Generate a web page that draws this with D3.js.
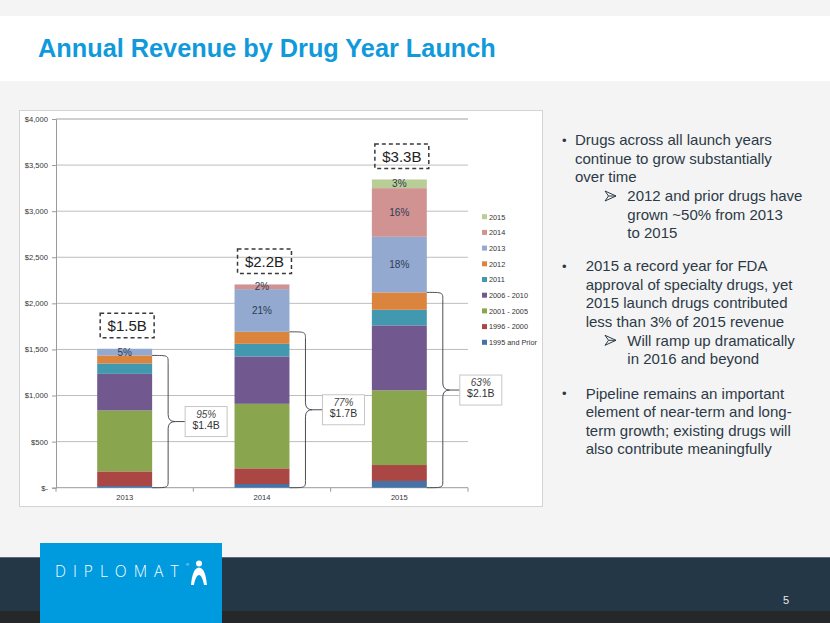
<!DOCTYPE html>
<html><head><meta charset="utf-8">
<script src="https://cdn.jsdelivr.net/npm/d3@7"></script>
<style>
html,body{margin:0;padding:0;background:#f4f4f4;}
svg{display:block;font-family:"Liberation Sans",Arial,sans-serif;}
</style></head>
<body>
<svg id="c" width="830" height="623"></svg>
<script>
// ---------------- data ----------------
const years = ["2013", "2014", "2015"];
const seriesNames = ["1995 and Prior", "1996 - 2000", "2001 - 2005", "2006 - 2010", "2011", "2012", "2013", "2014", "2015"];
const s1995 = [18, 40, 73];
const s1996 = [159, 170, 173];
const s2001 = [661, 700, 810];
const s2006 = [397, 514, 705];
const s2011 = [113, 137, 169];
const s2012 = [87, 130, 189];
const s2013 = [72, 463, 603];
const s2014 = [0, 51, 528];
const s2015 = [0, 0, 94];
const seriesColors = ["#4572A7", "#AA4643", "#89A54E", "#71588F", "#4198AF", "#DB843D", "#93A9CF", "#D19392", "#B9CD96"];
const yTicks = [0, 500, 1000, 1500, 2000, 2500, 3000, 3500, 4000];
const totalLabels = ["$1.5B", "$2.2B", "$3.3B"];
const sharePct = ["95%", "77%", "63%"];
const shareAmt = ["$1.4B", "$1.7B", "$2.1B"];
// percent labels inside segments: [yearIndex, seriesIndex, label]
const segLabels = [[0, 6, "5%"], [1, 6, "21%"], [1, 7, "2%"], [2, 6, "18%"], [2, 7, "16%"], [2, 8, "3%"]];
const bullets = [
  {lvl: 0, y: 140, lines: ["Drugs across all launch years", "continue to grow substantially", "over time"], tx: 575},
  {lvl: 1, y: 196, lines: ["2012 and prior drugs have", "grown ~50% from 2013", "to 2015"]},
  {lvl: 0, y: 266, lines: ["2015 a record year for FDA", "approval of specialty drugs, yet", "2015 launch drugs contributed", "less than 3% of 2015 revenue"], tx: 585.7},
  {lvl: 1, y: 340.3, lines: ["Will ramp up dramatically", "in 2016 and beyond"]},
  {lvl: 0, y: 393.3, lines: ["Pipeline remains an important", "element of near-term and long-", "term growth; existing drugs will", "also contribute meaningfully"], tx: 585.7}
];

const seriesVals = [s1995, s1996, s2001, s2006, s2011, s2012, s2013, s2014, s2015];
const table = years.map((y, i) => {
  const o = {year: y};
  seriesNames.forEach((s, k) => o[s] = seriesVals[k][i]);
  return o;
});

const svg = d3.select("#c");
const W = 830, H = 623;

// background
svg.append("rect").attr("width", W).attr("height", H).attr("fill", "#f4f4f4");
// header band
svg.append("rect").attr("x", 0).attr("y", 16).attr("width", W).attr("height", 65).attr("fill", "#ffffff");
svg.append("text").attr("x", 38).attr("y", 57).attr("font-size", 25.3).attr("font-weight", "bold")
  .attr("fill", "#109ADB").text("Annual Revenue by Drug Year Launch");

// chart panel
svg.append("rect").attr("x", 19.5).attr("y", 110.5).attr("width", 523).attr("height", 396)
  .attr("fill", "#ffffff").attr("stroke", "#d4d4d4").attr("stroke-width", 1);

const x = d3.scaleBand().domain(years).range([56, 468]).paddingInner(0.6).paddingOuter(0.3);
const y = d3.scaleLinear().domain([0, 4000]).range([487.7, 119]);

// gridlines
svg.append("g").selectAll("line").data(yTicks.filter(d => d > 0)).join("line")
  .attr("x1", 56).attr("x2", 468).attr("y1", d => y(d)).attr("y2", d => y(d))
  .attr("stroke", d => d === 4000 ? "#d0d0d0" : "#bdbdbd").attr("stroke-width", d => d === 4000 ? 2 : 1);

// y axis
const yAxis = d3.axisLeft(y).tickValues(yTicks).tickSize(4).tickPadding(4)
  .tickFormat(d => d === 0 ? "$-" : "$" + d3.format(",")(d));
const ya = svg.append("g").attr("transform", "translate(56,0)").call(yAxis);
ya.select(".domain").attr("stroke", "#9a9a9a");
ya.selectAll(".tick line").attr("stroke", "#9a9a9a");
ya.selectAll("text").attr("font-size", 7.6).attr("fill", "#333").attr("font-family", "Liberation Sans, Arial");

// x axis
const xa = svg.append("g").attr("transform", `translate(0,${y(0)})`).call(d3.axisBottom(x).tickSize(0).tickPadding(7));
xa.select(".domain").remove();
xa.selectAll("text").attr("font-size", 7.6).attr("fill", "#333").attr("font-family", "Liberation Sans, Arial");
svg.append("line").attr("x1", 56).attr("x2", 468).attr("y1", y(0)).attr("y2", y(0)).attr("stroke", "#9a9a9a");
const step = x.step();
const bounds = d3.range(years.length + 1).map(i => 56 + i * step);
svg.append("g").selectAll("line").data(bounds).join("line")
  .attr("x1", d => d).attr("x2", d => d).attr("y1", y(0)).attr("y2", y(0) + 4).attr("stroke", "#9a9a9a");

// stacked bars
const stack = d3.stack().keys(seriesNames)(table);
svg.append("g").selectAll("g").data(stack).join("g")
  .attr("fill", (d, i) => seriesColors[i])
  .selectAll("rect").data(d => d).join("rect")
  .attr("x", d => x(d.data.year)).attr("width", x.bandwidth())
  .attr("y", d => y(d[1])).attr("height", d => y(d[0]) - y(d[1]));

// segment percent labels
svg.append("g").selectAll("text").data(segLabels).join("text")
  .attr("x", d => x(years[d[0]]) + x.bandwidth() / 2)
  .attr("y", d => { const s = stack[d[1]][d[0]]; return (y(s[0]) + y(s[1])) / 2; })
  .attr("dy", "0.35em").attr("text-anchor", "middle").attr("font-size", 10).attr("fill", "#2e3b52")
  .text(d => d[2]);

// legend
const lg = svg.append("g");
const legendOrder = seriesNames.map((s, i) => i).reverse();
legendOrder.forEach((si, j) => {
  const ly = 217 + j * 15.7;
  lg.append("rect").attr("x", 482).attr("y", ly - 2.8).attr("width", 5).attr("height", 5).attr("fill", seriesColors[si]);
  lg.append("text").attr("x", 489).attr("y", ly).attr("dy", "0.35em").attr("font-size", 7.3).attr("fill", "#333")
    .text(seriesNames[si]);
});

// total dashed boxes
const totals = years.map((yr, i) => d3.sum(seriesVals, s => s[i]));
const boxH = 24.5;
years.forEach((yr, i) => {
  const bx = x(yr) + 3, bw = x.bandwidth() - 1;
  const by = y(totals[i]) - 11 - boxH;
  svg.append("rect").attr("x", bx).attr("y", by).attr("width", bw).attr("height", boxH)
    .attr("fill", "none").attr("stroke", "#3a3a3a").attr("stroke-width", 1.5).attr("stroke-dasharray", "4,3");
  svg.append("text").attr("x", bx + bw / 2).attr("y", by + boxH / 2).attr("dy", "0.36em")
    .attr("text-anchor", "middle").attr("font-size", 15).attr("fill", "#222").text(totalLabels[i]);
});

// braces + callouts (2012 and prior)
years.forEach((yr, i) => {
  const top = y(stack[5][i][1]), bot = y(0);
  const x0 = x(yr) + x.bandwidth(), xb = x0 + 16, xt = x0 + 33;
  const mid = (top + bot) / 2, r = 7;
  const p = `M${x0},${top} C${xb},${top} ${xb},${top} ${xb},${top + r} L${xb},${mid - r} Q${xb},${mid} ${xb + r},${mid} L${xt},${mid}` +
    ` M${xb + r},${mid} Q${xb},${mid} ${xb},${mid + r} L${xb},${bot - r} C${xb},${bot} ${xb},${bot} ${x0},${bot}`;
  svg.append("path").attr("d", p).attr("fill", "none").attr("stroke", "#4a4f56").attr("stroke-width", 1);
  const cw = 42, ch = 30;
  svg.append("rect").attr("x", xt).attr("y", mid - ch / 2).attr("width", cw).attr("height", ch)
    .attr("fill", "#fff").attr("stroke", "#c6c6c6").attr("stroke-width", 1);
  svg.append("text").attr("x", xt + cw / 2).attr("y", mid - 7.5).attr("dy", "0.35em").attr("text-anchor", "middle")
    .attr("font-size", 10).attr("font-style", "italic").attr("fill", "#444").text(sharePct[i]);
  svg.append("text").attr("x", xt + cw / 2).attr("y", mid + 3.5).attr("dy", "0.35em").attr("text-anchor", "middle")
    .attr("font-size", 10.5).attr("fill", "#333").text(shareAmt[i]);
});

// bullets text
const tg = svg.append("g").attr("font-size", 15).attr("fill", "#2c3a47");
const LH = 18.5;
bullets.forEach(b => {
  if (b.lvl === 0) {
    tg.append("text").attr("x", 562).attr("y", b.y).attr("dy", "0.35em").attr("font-size", 13).text("•");
  } else {
    const ax = 605, ay = b.y;
    tg.append("path").attr("d", `M${ax},${ay - 5} L${ax + 11},${ay} L${ax},${ay + 5} L${ax + 3.5},${ay} Z M${ax + 3.5},${ay} L${ax + 11},${ay}`)
      .attr("fill", "none").attr("stroke", "#2c3a47").attr("stroke-width", 1).attr("stroke-linejoin", "round");
  }
  const tx = b.lvl === 0 ? b.tx : 627.3;
  b.lines.forEach((ln, k) => {
    tg.append("text").attr("x", tx).attr("y", b.y + k * LH).attr("dy", "0.35em").text(ln);
  });
});

// footer
svg.append("rect").attr("x", 0).attr("y", 557).attr("width", W).attr("height", 54).attr("fill", "#243746");
svg.append("rect").attr("x", 0).attr("y", 611).attr("width", W).attr("height", 12).attr("fill", "#252729");
svg.append("rect").attr("x", 0).attr("y", 557).attr("width", W).attr("height", 1).attr("fill", "#5a6a78");
svg.append("rect").attr("x", 40).attr("y", 543).attr("width", 182).attr("height", 80).attr("fill", "#009ADE");
svg.append("text").attr("x", 55).attr("y", 577).attr("font-size", 15.5).attr("fill", "#fff")
  .attr("letter-spacing", 7).attr("font-family", "Open Sans, Liberation Sans").attr("font-weight", 300).text("DIPLOMAT");
svg.append("text").attr("x", 186).attr("y", 566).attr("font-size", 4).attr("fill", "#fff").text("®");
// figure icon
svg.append("circle").attr("cx", 199).attr("cy", 563.5).attr("r", 3).attr("fill", "#fff");
svg.append("path").attr("d", "M191,585 C192,575 194,568 199,567.5 C204,568 206,575 207,585 L204,585 C203,579 201,575 199,575 C197,575 195,579 194,585 Z")
  .attr("fill", "#fff");
svg.append("text").attr("x", 786).attr("y", 600).attr("dy", "0.35em").attr("text-anchor", "middle")
  .attr("font-size", 11).attr("fill", "#e8e8e8").text("5");
</script>
</body></html>
